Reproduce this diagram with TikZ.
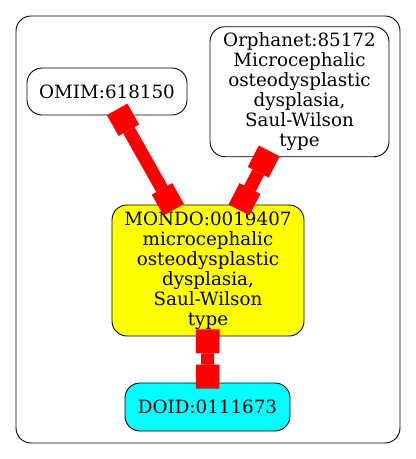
\documentclass[tikz,border=0pt]{standalone}
\usepackage{fontspec}
\setmainfont{DejaVu Serif}
\usepackage{tikz}
\usetikzlibrary{arrows.meta}
\definecolor{termyellow}{RGB}{255,255,0}
\definecolor{termcyan}{RGB}{0,255,255}
\definecolor{linkred}{RGB}{255,0,0}

\begin{document}
\begin{tikzpicture}[x=1pt,y=1pt,
  term/.style={draw=black, line width=0.9pt, rounded corners=15pt, align=center,
    inner sep=0pt, font=\fontsize{18.3}{20}\selectfont},
  link/.style={draw=linkred, line width=13pt,
    {Square[length=24pt,width=23.5pt,line width=0pt]}-{Square[length=24pt,width=23.5pt,line width=0pt]},
    shorten <=-7pt, shorten >=-6pt}]
\useasboundingbox (0,0) rectangle (416,-459);
% cluster:
\draw[black, line width=0.9pt, rounded corners=15pt] (16,-16) rectangle (400,-443);
% terms:
\node[term, fill=white, minimum width=160pt, minimum height=47pt] (omim) at (107,-91.5) {OMIM:618150};
\node[term, fill=white, minimum width=179pt, minimum height=130pt] (orpha) at (299.5,-91.7)
  {Orphanet:85172\\Microcephalic\\osteodysplastic\\dysplasia,\\Saul-Wilson\\type};
\node[term, fill=termyellow, minimum width=192pt, minimum height=131pt] (mondo) at (208,-270.5)
  {MONDO:0019407\\microcephalic\\osteodysplastic\\dysplasia,\\Saul-Wilson\\type};
\node[term, fill=termcyan, minimum width=165pt, minimum height=48pt] (doid) at (207.5,-407) {DOID:0111673};
% links:
\draw[link] (omim) -- (mondo);
\draw[link] (orpha) -- (mondo);
\draw[link] (mondo) -- (doid);
\end{tikzpicture}
\end{document}
